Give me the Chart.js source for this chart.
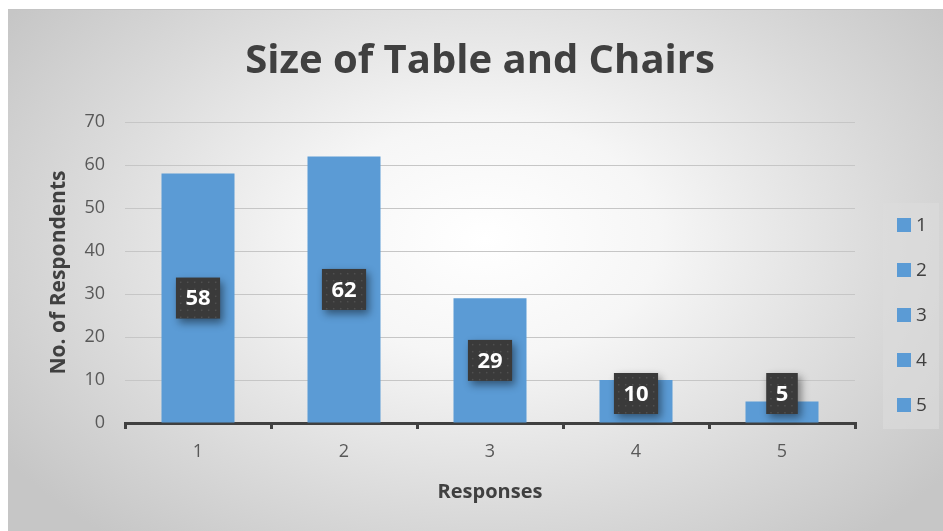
<!DOCTYPE html>
<html>
<head>
<meta charset="utf-8">
<script src="https://cdn.jsdelivr.net/npm/chart.js@4.4.1/dist/chart.umd.min.js"></script>
<style>
  html, body { margin: 0; padding: 0; background: #fff; }
  #wrap {
    position: absolute; left: 8px; top: 9px; width: 935px; height: 522px;
    border-top: 1px solid #c4c4c4; box-sizing: border-box;
    background: radial-gradient(ellipse 62% 75% at 51% 44%, #ffffff 0%, #f6f6f6 30%, #dadada 70%, #c6c6c6 100%);
  }
  canvas { display: block; }
</style>
</head>
<body>
<div id="wrap"><canvas id="chart" width="935" height="521"></canvas></div>
<script>
const responses = ["1", "2", "3", "4", "5"];
const respondents = [58, 62, 29, 10, 5];
const yTicks = [0, 10, 20, 30, 40, 50, 60, 70];

const FONT = "'Open Sans', 'DejaVu Sans', sans-serif";
const BAR = "#5b9bd5";

// chart heading above the plot
const titlePlugin = {
  id: "titleText",
  afterDraw(chart) {
    const ctx = chart.ctx;
    ctx.save();
    ctx.font = "bold 40px " + FONT;
    ctx.fillStyle = "#404040";
    ctx.textAlign = "center";
    ctx.textBaseline = "alphabetic";
    ctx.fillText("Size of Table and Chairs", 472, 63);
    ctx.restore();
  }
};

// dark value boxes sitting on each bar
const valueBoxes = {
  id: "valueBoxes",
  afterDatasetsDraw(chart) {
    const ctx = chart.ctx;
    const meta = chart.getDatasetMeta(0);
    ctx.save();
    ctx.font = "bold 22px " + FONT;
    meta.data.forEach((bar, i) => {
      const txt = String(respondents[i]);
      const w = ctx.measureText(txt).width + 19;
      const h = 41;
      const cy = Math.min((bar.y + bar.base) / 2, bar.base - 29);
      const x = bar.x - w / 2, y = cy - h / 2;
      ctx.save();
      ctx.shadowColor = "rgba(0,0,0,0.45)";
      ctx.shadowBlur = 8;
      ctx.shadowOffsetX = 3;
      ctx.shadowOffsetY = 4;
      ctx.fillStyle = "#3a3a3a";
      ctx.fillRect(x, y, w, h);
      ctx.restore();
      ctx.fillStyle = "#505050";
      for (let dy = 4; dy < h; dy += 7) {
        for (let dx = 4; dx < w; dx += 7) {
          ctx.fillRect(x + dx, y + dy, 1.5, 1.5);
        }
      }
      ctx.fillStyle = "#ffffff";
      ctx.textAlign = "center";
      ctx.textBaseline = "middle";
      ctx.fillText(txt, bar.x, cy + 1);
    });
    ctx.restore();
  }
};

// legend panel on the right, one entry per response
const sideLegend = {
  id: "sideLegend",
  afterDraw(chart) {
    const ctx = chart.ctx;
    ctx.save();
    ctx.fillStyle = "rgba(220,220,220,0.6)";
    ctx.fillRect(875, 193, 56, 226);
    ctx.font = "19px " + FONT;
    ctx.textBaseline = "middle";
    ctx.textAlign = "left";
    responses.forEach((r, i) => {
      const cy = 215 + i * 45;
      ctx.fillStyle = BAR;
      ctx.fillRect(889, cy - 7, 14, 14);
      ctx.fillStyle = "#404040";
      ctx.fillText(r, 908, cy + 1);
    });
    ctx.restore();
  }
};

new Chart(document.getElementById("chart"), {
  type: "bar",
  data: {
    labels: responses,
    datasets: [{
      data: respondents,
      backgroundColor: BAR,
      barPercentage: 0.5,
      categoryPercentage: 1
    }]
  },
  options: {
    responsive: false,
    animation: false,
    layout: { padding: { left: 0, right: 88, top: 112, bottom: 0 } },
    plugins: { legend: { display: false }, tooltip: { enabled: false } },
    scales: {
      x: {
        afterFit(s) { s.height = 108; },
        grid: {
          display: true, drawOnChartArea: false, drawTicks: true,
          tickLength: 6, color: "#404040", lineWidth: 3, offset: true
        },
        border: { display: true, color: "#404040", width: 3 },
        ticks: { color: "#595959", font: { family: FONT, size: 18 }, padding: 12 },
        title: {
          display: true, text: "Responses", color: "#404040",
          font: { family: FONT, size: 20, weight: "bold" },
          padding: { top: 0, bottom: 27 }
        }
      },
      y: {
        min: 0, max: 70,
        afterFit(s) { s.width = 117; },
        afterBuildTicks(s) { s.ticks = yTicks.map(v => ({ value: v })); },
        grid: { color: "#c6c6c6", lineWidth: 1, drawTicks: false },
        border: { display: false },
        ticks: { color: "#595959", font: { family: FONT, size: 18 }, padding: 20 },
        title: {
          display: true, text: "No. of Respondents", color: "#404040",
          font: { family: FONT, size: 21, weight: "bold" },
          padding: { top: 38, bottom: 0 }
        }
      }
    }
  },
  plugins: [titlePlugin, valueBoxes, sideLegend]
});
</script>
</body>
</html>
